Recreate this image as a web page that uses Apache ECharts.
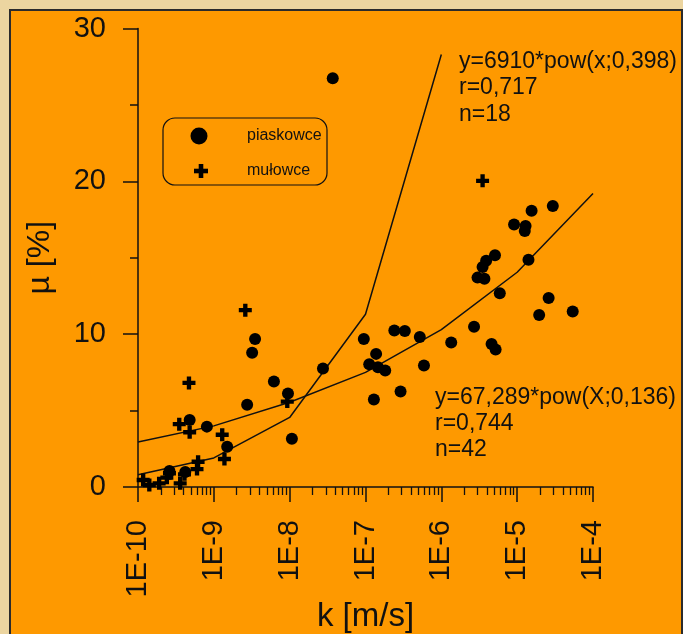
<!DOCTYPE html>
<html>
<head>
<meta charset="utf-8">
<script src="https://cdn.jsdelivr.net/npm/echarts@6/dist/echarts.min.js"></script>
<style>
  html, body { margin: 0; padding: 0; background: #ecd5a0; }
  #graph { width: 683px; height: 634px; }
</style>
</head>
<body>
<div id="graph"></div>
<script>
// piaskowce (sandstones): k [m/s], mu [%]
var sandK = [3.7e-8, 9.5e-8, 1.38e-7, 1.12e-7, 1.46e-7, 1.82e-7, 1.29e-7, 2.4e-7, 3.3e-7, 5.2e-7,
             5.9e-7, 2.9e-7, 1.35e-6, 2.7e-6, 4.6e-6, 5.2e-6, 5.9e-6, 3.0e-6, 3.7e-6, 3.5e-6,
             3.9e-6, 5.1e-6, 1.41e-5, 9.1e-6, 1.29e-5, 1.26e-5, 1.55e-5, 2.95e-5, 2.6e-5, 1.95e-5,
             5.4e-5, 2.75e-8, 6.2e-9, 9.5e-9, 1.07e-8, 3.5e-9, 3.2e-9, 2.75e-9, 8.1e-10, 4.8e-10,
             1.5e-9, 2.6e-10, 4.2e-10];
var sandMu = [26.75, 9.69, 8.71, 8.03, 7.84, 7.63, 5.72, 10.24, 10.21, 9.82,
              7.95, 6.25, 9.45, 10.48, 9.35, 9.0, 12.68, 13.7, 13.63, 14.4,
              14.8, 15.16, 14.87, 17.17, 17.07, 16.75, 18.07, 18.39, 12.36, 11.25,
              11.49, 7.76, 6.91, 6.12, 3.16, 9.69, 8.79, 5.38, 3.95, 4.38,
              2.63, 1.05, 0.98];

// mułowce (mudstones)
var mudK = [3.5e-6, 2.6e-9, 4.7e-10, 3.5e-10, 4.8e-10, 1.29e-9, 1.38e-9, 9.3e-9, 6.2e-10,
            6.0e-10, 1.17e-10, 1.41e-10, 1.9e-10, 2.4e-10, 2.6e-10, 3.6e-10, 4.1e-10];
var mudMu = [20.03, 11.57, 6.81, 4.11, 3.58, 3.42, 1.83, 5.59, 1.65,
             1.17, 0.46, 0.13, 0.24, 0.61, 0.9, 0.24, 0.83];

// fitted curves
var fitMudK = [1e-10, 1e-9, 1e-8, 1e-7, 1e-6];
var fitMudMu = [0.8, 1.9, 4.55, 11.3, 28.3];
var fitSandK = [1e-10, 1e-9, 1e-8, 1e-7, 1e-6, 1e-5, 1e-4];
var fitSandMu = [2.94, 4.0, 5.55, 7.5, 10.3, 14.05, 19.2];

var yTicks = [0, 10, 20, 30];
var kMin = 1e-10, kMax = 1e-4;

var seriesNames = ['piaskowce', 'mułowce'];
var fitTexts = [
    ['y=6910*pow(x;0,398)', 'r=0,717', 'n=18'],
    ['y=67,289*pow(X;0,136)', 'r=0,744', 'n=42']
];

function zip(a, b) {
    return a.map(function (v, i) { return [v, b[i]]; });
}

// minor ticks at 2..9 inside each decade, on a helper linear axis in log10 units
var minorTicks = [];
for (var e = -10; e < -4; e++) {
    for (var m = 2; m <= 9; m++) minorTicks.push(e + Math.log10(m));
}

var font = 'Arial, "Liberation Sans", sans-serif';
var ink = '#111';
var orange = '#fe9900';
var cross = 'path://M-1,-3H1V-1H3V1H1V3H-1V1H-3V-1H-1Z';

var dom = document.getElementById('graph');
var chart = echarts.init(dom);

chart.setOption({
    backgroundColor: '#ecd5a0',
    animation: false,
    textStyle: { fontFamily: font },
    grid: { left: 138, right: 90, top: 28.5, bottom: 147, containLabel: false, outerBoundsMode: 'none' },
    xAxis: [{
        type: 'log',
        logBase: 10,
        min: kMin,
        max: kMax,
        splitNumber: 6,
        name: 'k [m/s]',
        nameLocation: 'middle',
        nameGap: 113,
        nameMoveOverlap: false,
        nameTextStyle: { color: ink, fontSize: 33, fontFamily: font },
        axisLine: { lineStyle: { color: ink, width: 1.5 } },
        axisTick: { length: 15, lineStyle: { color: ink, width: 1.5 } },
        axisLabel: {
            rotate: 90, margin: 33, color: ink, fontSize: 29,
            formatter: function (v) { return '1E' + Math.round(Math.log10(v)); }
        },
        splitLine: { show: false }
    }, {
        type: 'value',
        position: 'bottom',
        min: -10,
        max: -4,
        axisLine: { show: false },
        axisLabel: { show: false },
        splitLine: { show: false },
        axisTick: { customValues: minorTicks, length: 8, lineStyle: { color: ink, width: 1.3 } }
    }],
    yAxis: {
        type: 'value',
        min: 0,
        max: 30,
        interval: 10,
        name: 'µ [%]',
        nameLocation: 'middle',
        nameRotate: 90,
        nameGap: 82,
        nameMoveOverlap: false,
        nameTextStyle: { color: ink, fontSize: 32, fontFamily: font },
        axisLine: { show: true, lineStyle: { color: ink, width: 1.5 } },
        axisTick: { show: true, length: 15, lineStyle: { color: ink, width: 1.5 } },
        minorTick: { show: true, splitNumber: 2, length: 8, lineStyle: { color: ink, width: 1.5 } },
        axisLabel: {
            margin: 32, color: ink, fontSize: 29,
            formatter: function (v) { return yTicks.indexOf(v) >= 0 ? String(v) : ''; }
        },
        splitLine: { show: false }
    },
    graphic: [
        {
            type: 'rect', z: -10, silent: true,
            shape: { x: 10, y: 10, width: 672, height: 640 },
            style: { fill: orange, stroke: '#2b2b2b', lineWidth: 2 }
        },
        // legend box
        {
            type: 'rect', z: 10,
            shape: { x: 163, y: 118, width: 164, height: 67, r: 12 },
            style: { fill: orange, stroke: ink, lineWidth: 1.2 }
        },
        { type: 'circle', z: 11, shape: { cx: 199, cy: 136, r: 8.5 }, style: { fill: '#000' } },
        { type: 'rect', z: 11, shape: { x: 194, y: 168.7, width: 14, height: 4.6 }, style: { fill: '#000' } },
        { type: 'rect', z: 11, shape: { x: 198.7, y: 164, width: 4.6, height: 14 }, style: { fill: '#000' } },
        {
            type: 'text', z: 11, x: 247, y: 136,
            style: { text: seriesNames[0], fill: ink, font: '16px ' + font, verticalAlign: 'middle' }
        },
        {
            type: 'text', z: 11, x: 247, y: 171,
            style: { text: seriesNames[1], fill: ink, font: '16px ' + font, verticalAlign: 'middle' }
        },
        // fit annotations
        {
            type: 'text', z: 11, x: 459, y: 48,
            style: { text: fitTexts[0].join('\n'), fill: ink, font: '23px ' + font, lineHeight: 26.5 }
        },
        {
            type: 'text', z: 11, x: 435, y: 385,
            style: { text: fitTexts[1].join('\n'), fill: ink, font: '23px ' + font, lineHeight: 26 }
        }
    ],
    series: [
        {
            name: 'fit mułowce',
            type: 'line',
            data: zip(fitMudK, fitMudMu),
            symbol: 'none',
            lineStyle: { color: ink, width: 1.5 },
            z: 1
        },
        {
            name: 'fit piaskowce',
            type: 'line',
            data: zip(fitSandK, fitSandMu),
            symbol: 'none',
            lineStyle: { color: ink, width: 1.5 },
            z: 1
        },
        {
            name: seriesNames[0],
            type: 'scatter',
            data: zip(sandK, sandMu),
            symbol: 'circle',
            symbolSize: 12,
            itemStyle: { color: '#000', opacity: 1 },
            z: 3
        },
        {
            name: seriesNames[1],
            type: 'scatter',
            data: zip(mudK, mudMu),
            symbol: cross,
            symbolSize: 13,
            itemStyle: { color: '#000', opacity: 1 },
            z: 4
        }
    ]
});
</script>
</body>
</html>
